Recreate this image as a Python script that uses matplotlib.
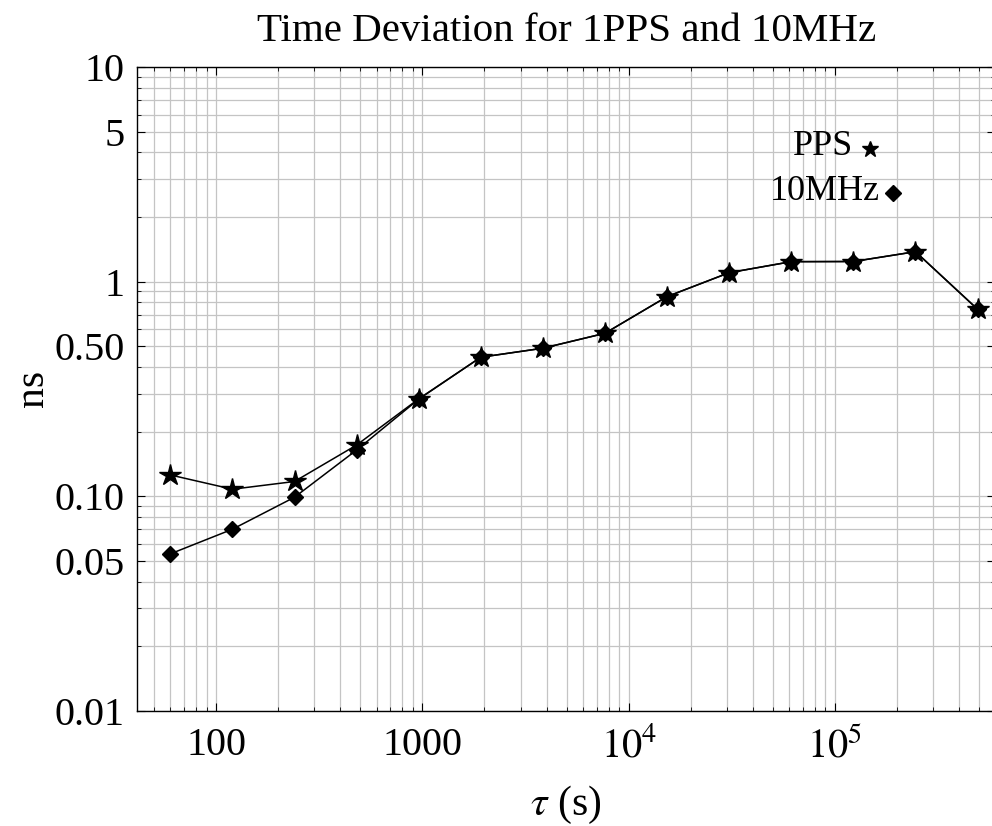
import matplotlib
matplotlib.use("Agg")
import matplotlib.pyplot as plt
from matplotlib.ticker import FixedLocator, FixedFormatter, NullFormatter

plt.rcParams['font.family'] = ['Liberation Serif', 'DejaVu Serif']
plt.rcParams['mathtext.fontset'] = 'stix'

# data
tau = [60, 120, 240, 480, 960, 1920, 3840, 7680, 15360, 30720, 61440, 122880, 245760, 491520]
pps = [0.1255, 0.1077, 0.117, 0.173, 0.284, 0.444, 0.489, 0.574, 0.851, 1.10, 1.238, 1.240, 1.378, 0.743]
mhz = [0.0538, 0.0701, 0.0988, 0.164, 0.283, 0.444, 0.489, 0.574, 0.851, 1.10, 1.238, 1.240, 1.378, 0.743]

xticks = [100, 1000, 1e4, 1e5]
xticklabels = ["100", "1000", r"$10^{4}$", r"$10^{5}$"]
yticks = [0.01, 0.05, 0.1, 0.5, 1, 5, 10]
yticklabels = ["0.01", "0.05", "0.10", "0.50", "1", "5", "10"]

title = "Time Deviation for 1PPS and 10MHz"
xlabel = r"$\tau$ (s)"
ylabel = "ns"
legend_labels = ["PPS", "10MHz"]

fig = plt.figure(figsize=(9.92, 8.26), dpi=100)
ax = fig.add_axes([0.1384, 0.1396, 0.8646, 0.7793])
ax.set_xscale('log')
ax.set_yscale('log')
ax.set_xlim(41.5, 5.97e5)
ax.set_ylim(0.01, 10)

# grid at every major and minor position
xgrid = [m * 10**e for e in range(1, 6) for m in range(1, 10)]
ygrid = [m * 10**e for e in range(-2, 1) for m in range(1, 10)] + [10]
for gx in xgrid:
    ax.axvline(gx, color='#c4c4c4', lw=0.9, zorder=0)
for gy in ygrid:
    ax.axhline(gy, color='#c4c4c4', lw=0.9, zorder=0)

ax.plot(tau, mhz, color='black', lw=1.1, marker='D', ms=8.5, zorder=3, clip_on=False)
ax.plot(tau, pps, color='black', lw=1.1, marker='*', ms=16, zorder=4, clip_on=False)

ax.xaxis.set_major_locator(FixedLocator(xticks))
ax.xaxis.set_major_formatter(FixedFormatter(xticklabels))
ax.xaxis.set_minor_formatter(NullFormatter())
ax.yaxis.set_major_locator(FixedLocator(yticks))
ax.yaxis.set_major_formatter(FixedFormatter(yticklabels))
ax.yaxis.set_minor_formatter(NullFormatter())

ax.tick_params(which='both', direction='in', top=True, right=True, labelsize=29)
ax.tick_params(axis='x', which='major', pad=12)
ax.tick_params(axis='y', which='major', pad=9)
ax.tick_params(which='major', length=6, width=0.8)
ax.tick_params(which='minor', length=3, width=0.6)
for sp in ax.spines.values():
    sp.set_linewidth(1.0)

ax.set_title(title, fontsize=29.5, pad=19)
ax.set_xlabel(xlabel, fontsize=30, labelpad=13)
ax.set_ylabel(ylabel, fontsize=30, labelpad=2)

# legend (text + marker)
ax.text(0.7995, 0.8762, legend_labels[0], transform=ax.transAxes, fontsize=26,
        ha='center', va='center')
ax.plot([0.8544], [0.8726], transform=ax.transAxes, marker='*', ms=12, color='black', clip_on=False)
ax.text(0.8012, 0.8058, legend_labels[1], transform=ax.transAxes, fontsize=26,
        ha='center', va='center')
ax.plot([0.8807], [0.8043], transform=ax.transAxes, marker='D', ms=8, color='black', clip_on=False)

fig.savefig("out.png", dpi=100)
